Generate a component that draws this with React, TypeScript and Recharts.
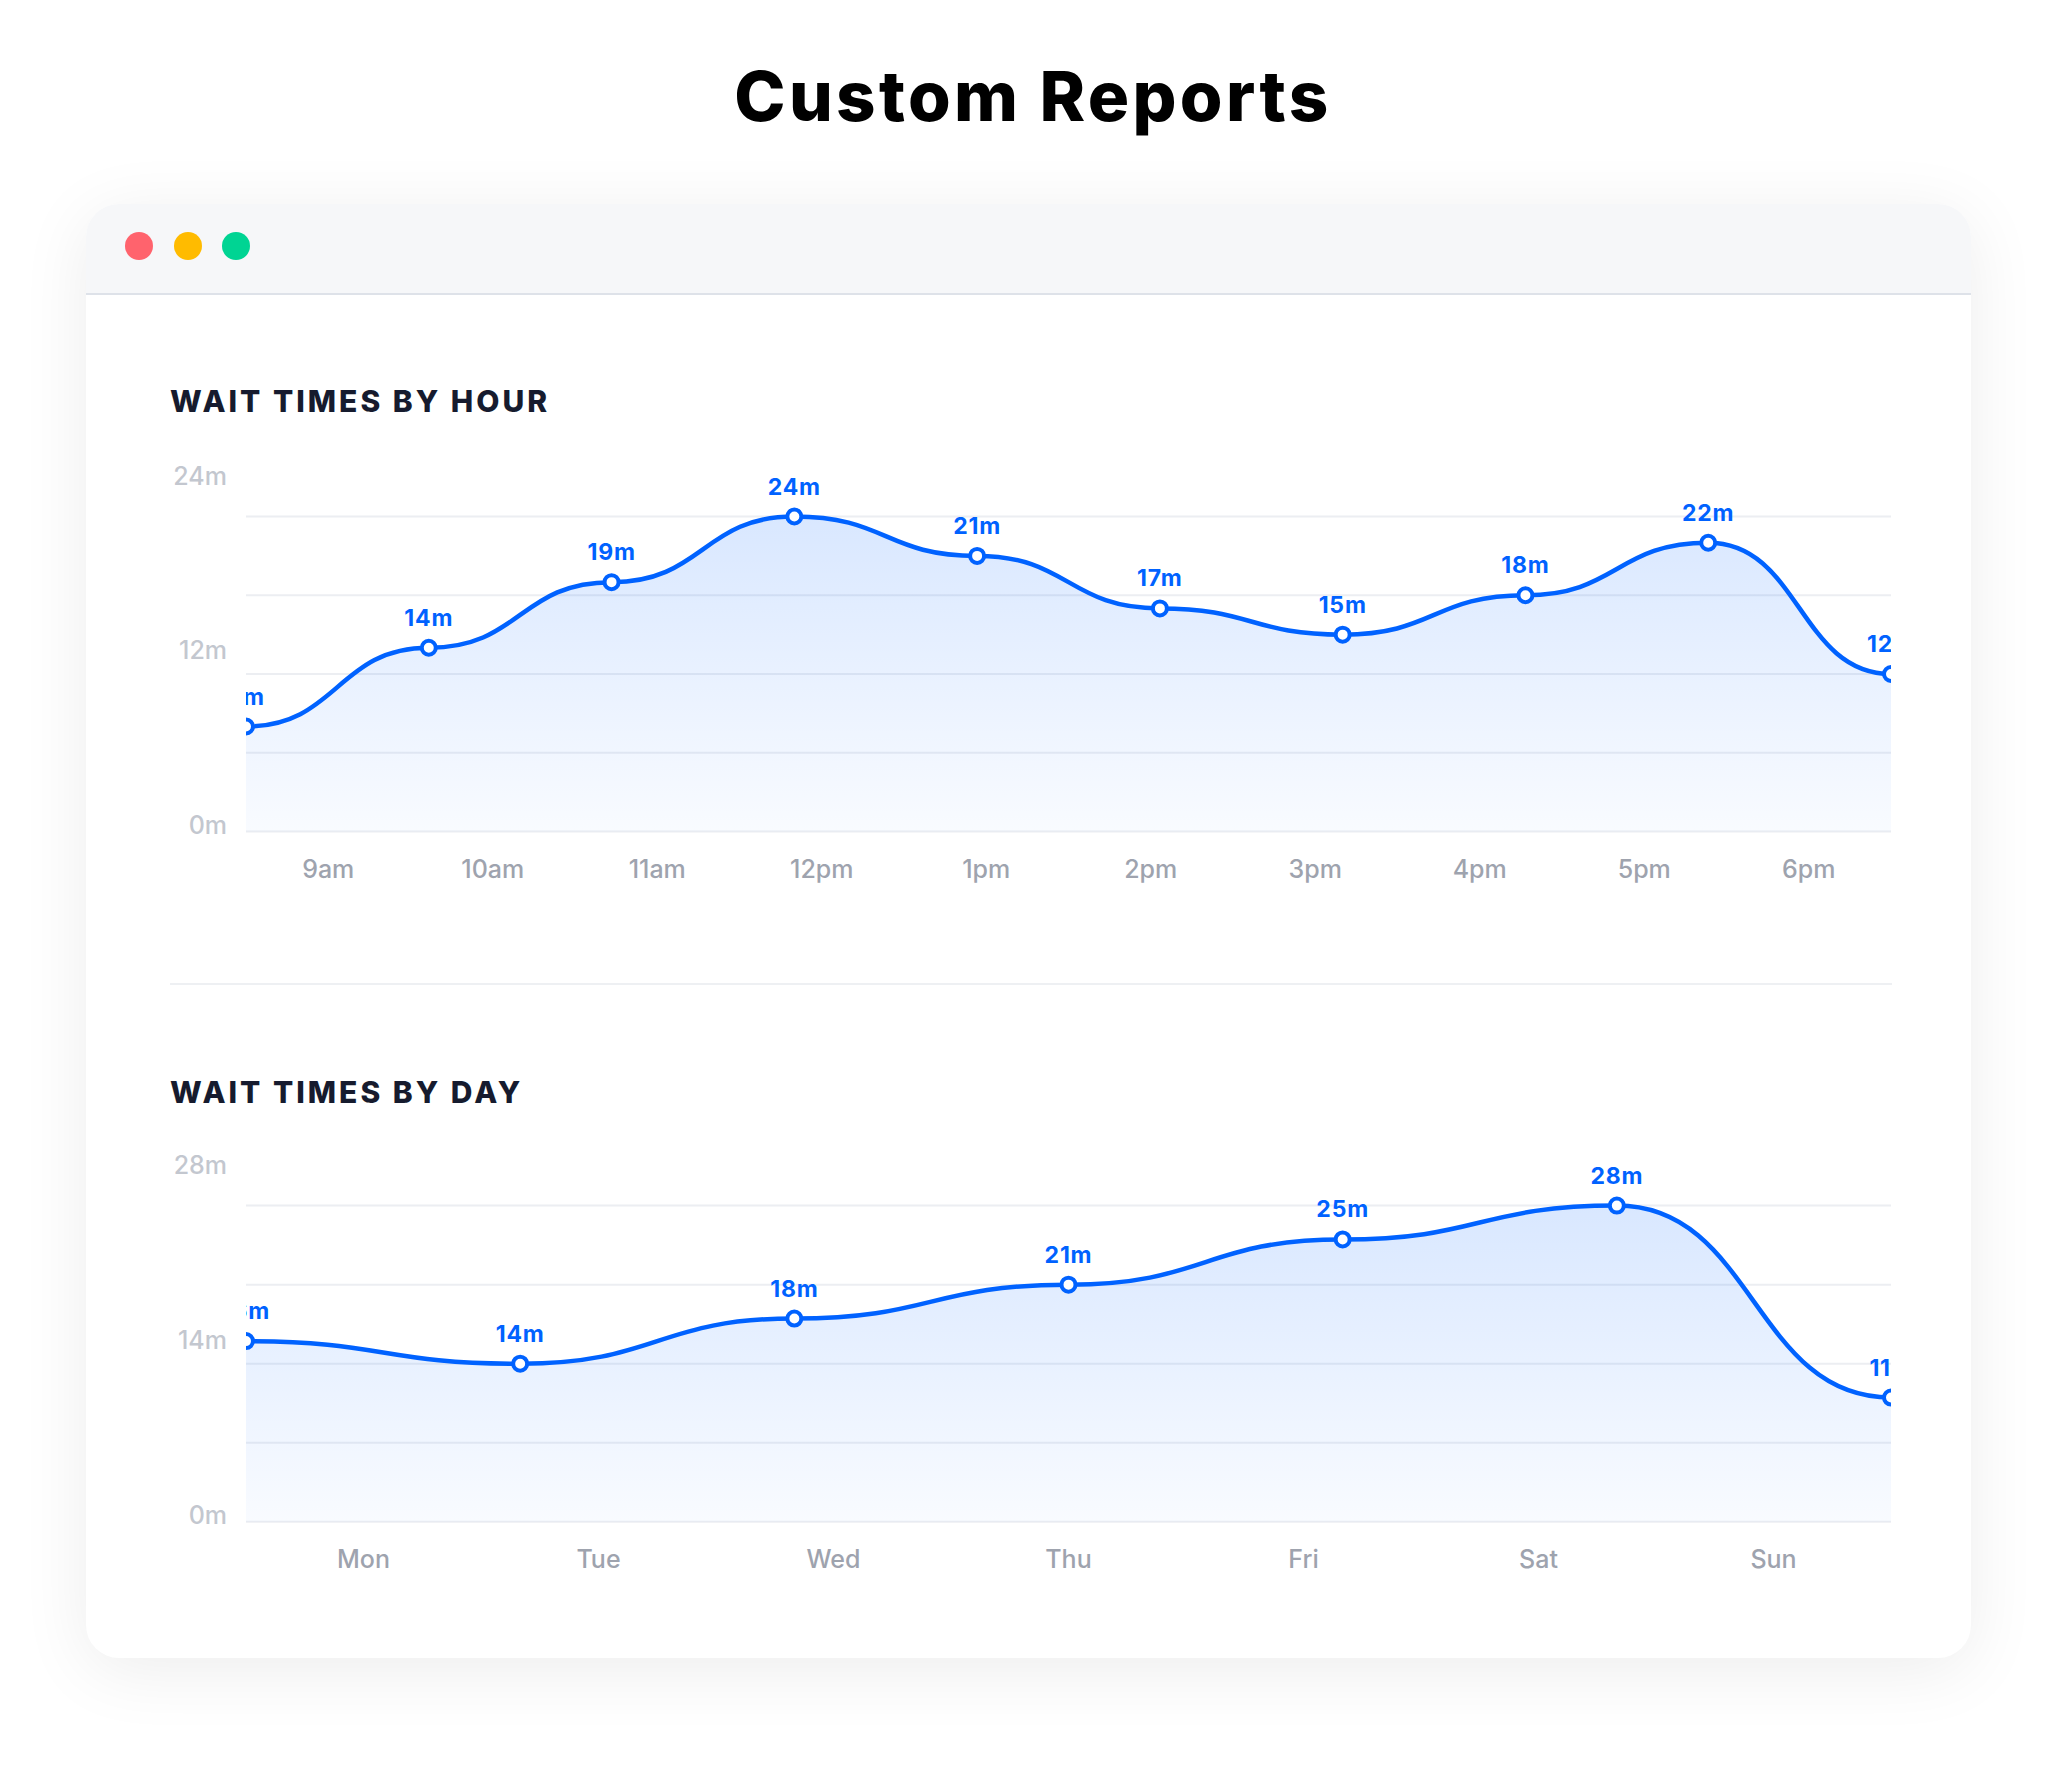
import React from "react";
import { Area, AreaChart, CartesianGrid, XAxis, YAxis } from "recharts";

const hours = ["9am", "10am", "11am", "12pm", "1pm", "2pm", "3pm", "4pm", "5pm", "6pm"];
const hourWaits = [8, 14, 19, 24, 21, 17, 15, 18, 22, 12];

const days = ["Mon", "Tue", "Wed", "Thu", "Fri", "Sat", "Sun"];
const dayWaits = [16, 14, 18, 21, 25, 28, 11];

const hourGrid = [0, 6, 12, 18, 24];
const hourLabels = [0, 12, 24];
const dayGrid = [0, 7, 14, 21, 28];
const dayLabels = [0, 14, 28];

const BLUE = "#0062FF";
const FONT = "Inter, 'Noto Sans', sans-serif";

const hourRows = hours.map((label, i) => ({ label, wait: hourWaits[i] }));
const dayRows = days.map((label, i) => ({ label, wait: dayWaits[i] }));

// chart box and plot layout
const CHART_W = 1760;
const CHART_H = 480;
const Y_AXIS_W = 96;
const RIGHT = 19;

type ChartProps = {
  id: string;
  rows: { label: string; wait: number }[];
  grid: number[];
  labels: number[];
  top: number;
  marginTop: number;
  marginBottom: number;
};

function WaitChart({ id, rows, grid, labels, top, marginTop, marginBottom }: ChartProps) {
  const max = grid[grid.length - 1];

  const yTick = (p: any) => {
    const v = p.payload.value;
    if (!labels.includes(v)) return <g />;
    const lift = 7 + (v / max) * 34;
    return (
      <text x={p.x} y={p.y - lift} textAnchor="end" dominantBaseline="central" fill="#C3C7CF" fontSize={25} fontWeight={500} fontFamily={FONT}>
        {v}m
      </text>
    );
  };

  const xTick = (p: any) => (
    <text x={p.x} y={p.y} textAnchor="middle" dominantBaseline="central" fill="#9EA3AE" fontSize={25} fontWeight={500} fontFamily={FONT}>
      {p.payload.value}
    </text>
  );

  const dot = (p: any) => (
    <g key={`dot-${id}-${p.index}`} clipPath={`url(#clip-${id})`}>
      <circle cx={p.cx} cy={p.cy} r={7} fill="#fff" stroke={BLUE} strokeWidth={4} />
      <text x={p.cx} y={p.cy - 22} textAnchor="middle" fill={BLUE} fontSize={23} fontWeight={700} letterSpacing={0.8} fontFamily={FONT}>
        {p.payload.wait}m
      </text>
    </g>
  );

  return (
    <div style={{ position: "absolute", left: 150, top }}>
      <AreaChart width={CHART_W} height={CHART_H} data={rows} margin={{ top: marginTop, right: RIGHT, bottom: marginBottom, left: 0 }}>
        <defs>
          <linearGradient id={`fill-${id}`} x1="0" y1="0" x2="0" y2="1">
            <stop offset="0%" stopColor={BLUE} stopOpacity={0.15} />
            <stop offset="100%" stopColor={BLUE} stopOpacity={0.025} />
          </linearGradient>
          <clipPath id={`clip-${id}`}>
            <rect x={Y_AXIS_W} y={0} width={CHART_W - Y_AXIS_W - RIGHT} height={CHART_H} />
          </clipPath>
        </defs>
        <CartesianGrid vertical={false} stroke="#ECEEF2" strokeWidth={2} xAxisId="pts" />
        <XAxis xAxisId="pts" dataKey="label" hide />
        <XAxis
          xAxisId="band"
          dataKey="label"
          scale="band"
          interval={0}
          axisLine={false}
          tickLine={false}
          tickSize={0}
          tickMargin={37}
          height={50}
          tick={xTick}
        />
        <YAxis
          domain={[0, max]}
          ticks={grid}
          axisLine={false}
          tickLine={false}
          tickSize={0}
          tickMargin={19}
          width={Y_AXIS_W}
          tick={yTick}
        />
        <Area
          xAxisId="pts"
          type="bumpX"
          dataKey="wait"
          stroke={BLUE}
          strokeWidth={4.5}
          fill={`url(#fill-${id})`}
          fillOpacity={1}
          dot={dot}
          activeDot={false}
          isAnimationActive={false}
        />
      </AreaChart>
    </div>
  );
}

const sectionTitle: React.CSSProperties = {
  position: "absolute",
  left: 170,
  margin: 0,
  fontFamily: FONT,
  fontSize: 30,
  lineHeight: "30px",
  fontWeight: 800,
  letterSpacing: 3,
  color: "#161B2E",
};

export default function App() {
  return (
    <div style={{ position: "absolute", left: 0, top: 0, width: 2066, height: 1771, background: "#fff", overflow: "hidden", fontFamily: FONT }}>
      <div
        style={{
          position: "absolute",
          left: 0,
          width: 2066,
          top: 62,
          textAlign: "center",
          fontSize: 69,
          lineHeight: "69px",
          fontWeight: 800,
          letterSpacing: 3.3,
          color: "#000",
        }}
      >
        Custom Reports
      </div>

      <div
        style={{
          position: "absolute",
          left: 86,
          top: 204,
          width: 1885,
          height: 1454,
          borderRadius: 33,
          background: "#fff",
          boxShadow: "0 12px 70px rgba(0,0,0,0.075)",
          overflow: "hidden",
        }}
      >
        <div style={{ position: "absolute", left: 0, top: 0, width: 1885, height: 89, background: "#F6F7F9", borderBottom: "2px solid #DEE2E9" }} />
        <div style={{ position: "absolute", left: 38.8, top: 28, width: 28, height: 28, borderRadius: 14, background: "#FF636D" }} />
        <div style={{ position: "absolute", left: 88.3, top: 28, width: 28, height: 28, borderRadius: 14, background: "#FFBB00" }} />
        <div style={{ position: "absolute", left: 136.3, top: 28, width: 28, height: 28, borderRadius: 14, background: "#00D493" }} />
      </div>

      <div style={{ ...sectionTitle, top: 386 }}>WAIT TIMES BY HOUR</div>
      <WaitChart id="hour" rows={hourRows} grid={hourGrid} labels={hourLabels} top={420} marginTop={96.5} marginBottom={18.5} />

      <div style={{ position: "absolute", left: 170, top: 983, width: 1722, height: 2, background: "#EEF0F3" }} />

      <div style={{ ...sectionTitle, top: 1077 }}>WAIT TIMES BY DAY</div>
      <WaitChart id="day" rows={dayRows} grid={dayGrid} labels={dayLabels} top={1110} marginTop={95.6} marginBottom={18.2} />
    </div>
  );
}
